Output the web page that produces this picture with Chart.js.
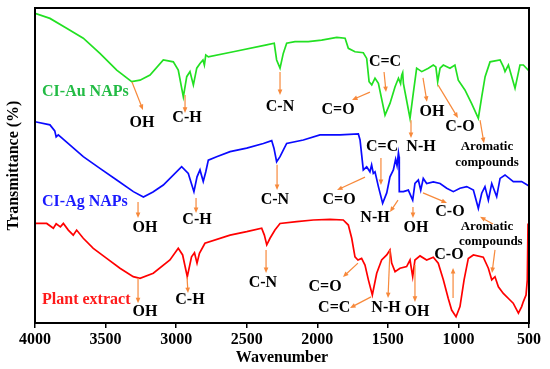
<!DOCTYPE html>
<html>
<head>
<meta charset="utf-8">
<script src="https://cdn.jsdelivr.net/npm/chart.js@4"></script>
<style>
  body { margin: 0; background: #fff; }
</style>
</head>
<body>
<canvas id="ftir" width="550" height="369"></canvas>
<script>
// wavenumber (cm-1) and transmittance (arbitrary, offset traces)
const auWave = [4000, 3894, 3776, 3658, 3540, 3421, 3315, 3256, 3185, 3091, 3020, 2985, 2949, 2925, 2902, 2878, 2854, 2831, 2810, 2800, 2790, 2772, 2595, 2359, 2305, 2288, 2264, 2241, 2217, 2158, 2064, 1969, 1862, 1803, 1780, 1733, 1674, 1650, 1633, 1614, 1591, 1567, 1520, 1485, 1449, 1425, 1410, 1402, 1395, 1390, 1343, 1320, 1296, 1260, 1213, 1178, 1160, 1147, 1130, 1107, 1060, 1025, 1001, 954, 907, 859, 835, 811, 776, 705, 682, 670, 646, 599, 564, 540, 500]
const auT = [98.3, 96.7, 93.6, 90.4, 85.6, 80.3, 76.6, 77.1, 78.7, 83.5, 82.9, 80.3, 71.8, 78.2, 79.8, 75.6, 80.9, 82.4, 83.5, 81.9, 85.1, 84.5, 86.1, 88.3, 88.8, 83.5, 80.9, 85.6, 88.8, 89.3, 89.3, 89.8, 90.7, 90.4, 87.2, 86.1, 85.8, 84.0, 76.6, 75.6, 77.7, 76.1, 66.0, 69.7, 75.0, 77.7, 76.0, 78.7, 79.5, 76.1, 65.0, 72.9, 80.9, 79.8, 80.9, 81.9, 81.3, 76.6, 80.9, 81.9, 80.9, 81.9, 77.1, 74.0, 69.7, 65.0, 71.8, 78.2, 82.9, 83.5, 81.4, 79.8, 81.9, 74.5, 81.9, 81.9, 80.0]

const agWave = [4000, 3894, 3860, 3850, 3835, 3658, 3540, 3421, 3303, 3232, 3164, 3091, 2961, 2914, 2874, 2852, 2831, 2808, 2790, 2772, 2713, 2618, 2500, 2382, 2323, 2307, 2288, 2264, 2241, 2217, 2099, 1981, 1839, 1709, 1697, 1674, 1650, 1627, 1615, 1603, 1591, 1567, 1537, 1508, 1485, 1461, 1445, 1435, 1425, 1421, 1419, 1390, 1355, 1324, 1308, 1284, 1267, 1249, 1225, 1178, 1130, 1083, 1036, 989, 941, 894, 859, 835, 812, 788, 764, 729, 705, 670, 611, 552, 500]
const agT = [63.9, 62.9, 61.0, 59.1, 59.7, 52.8, 49.1, 45.4, 41.7, 40.0, 41.6, 43.8, 49.6, 47.5, 41.7, 46.4, 48.6, 44.9, 48.0, 51.7, 52.8, 54.4, 55.5, 57.0, 57.9, 55.5, 51.2, 52.8, 54.9, 57.0, 58.1, 59.7, 59.7, 60.0, 58.1, 48.6, 49.6, 48.0, 50.2, 47.5, 48.0, 43.3, 38.0, 41.3, 46.4, 48.6, 52.0, 50.0, 54.0, 52.8, 41.7, 41.7, 42.2, 39.0, 44.3, 45.4, 42.2, 45.9, 44.3, 44.8, 44.3, 42.8, 41.7, 42.8, 43.3, 42.2, 36.4, 41.2, 43.3, 39.0, 44.3, 40.1, 45.9, 47.0, 44.9, 44.9, 43.5]

const plantWave = [4000, 3917, 3870, 3850, 3820, 3799, 3764, 3729, 3705, 3658, 3587, 3492, 3398, 3304, 3256, 3162, 3044, 2985, 2954, 2921, 2891, 2870, 2852, 2835, 2796, 2618, 2500, 2394, 2375, 2358, 2335, 2300, 2264, 2146, 2028, 1910, 1816, 1780, 1756, 1733, 1712, 1686, 1662, 1638, 1610, 1579, 1544, 1508, 1485, 1473, 1449, 1414, 1367, 1343, 1324, 1308, 1272, 1225, 1178, 1143, 1107, 1072, 1048, 1017, 989, 960, 930, 894, 824, 788, 764, 741, 717, 682, 635, 612, 575, 552, 540, 521, 512, 507, 503, 500]
const plantT = [31.6, 31.6, 30.1, 31.5, 30.5, 31.6, 29.5, 27.9, 29.5, 26.9, 23.7, 20.5, 17.4, 14.7, 14.2, 15.8, 20.0, 23.7, 21.6, 14.7, 21.0, 22.3, 19.0, 22.1, 25.3, 27.9, 29.0, 30.1, 27.9, 24.8, 26.9, 29.5, 31.6, 32.2, 32.7, 32.9, 32.7, 31.1, 26.9, 21.0, 20.0, 20.5, 18.4, 13.7, 8.9, 15.8, 20.0, 21.6, 23.2, 19.0, 16.3, 17.4, 17.9, 20.0, 14.7, 20.0, 21.3, 20.0, 20.9, 19.0, 13.7, 7.8, 4.1, 2.0, 5.2, 13.7, 20.5, 21.6, 20.9, 17.4, 13.7, 14.7, 11.5, 9.4, 7.3, 6.3, 3.1, 5.2, 6.8, 8.9, 13.7, 31.6, 23.2, 31.6]

const xTicks = [4000, 3500, 3000, 2500, 2000, 1500, 1000, 500]

// peak labels: [text, wavenumber, transmittance]
const peakLabels = [
  ['OH', 3242, 63.5], ['C-H', 2923, 65.1], ['C-N', 2264, 68.6], ['C=O', 1853, 67.6], ['C=C', 1520, 82.9],
  ['N-H', 1265, 55.9], ['OH', 1187, 67.0], ['C-O', 989, 62.2],
  ['OH', 3221, 30.2], ['C-H', 2852, 32.7], ['C-N', 2300, 39.0], ['C=O', 1846, 39.0], ['C=C', 1541, 55.9],
  ['N-H', 1591, 33.3], ['OH', 1301, 30.2], ['C-O', 1060, 35.2],
  ['OH', 3221, 3.5], ['C-H', 2902, 7.3], ['C-N', 2385, 12.7], ['C=O', 1945, 11.4], ['C=C', 1880, 4.8],
  ['N-H', 1513, 4.8], ['OH', 1294, 3.5], ['C-O', 1067, 21.6]
]
const smallLabels = [
  ['Aromatic', 798, 55.9], ['compounds', 798, 50.8],
  ['Aromatic', 798, 30.5], ['compounds', 770, 25.7]
]
const seriesLabels = [
  ['CI-Au NAPs', 3950, 73.3, '#22bb44'], ['CI-Ag NAPs', 3950, 38.4, '#1a1aff'], ['Plant extract', 3950, 7.3, '#ff1a1a']
]
// arrows: from [w, t] to [w, t]
const arrows = [
  [3313, 76.5, 3235, 67.6], [2937, 72.4, 2937, 66.7], [2264, 79.7, 2264, 72.4], [1627, 73.3, 1754, 70.8],
  [1527, 79.7, 1513, 73.3], [1336, 64.4, 1336, 58.7], [1251, 77.8, 1223, 70.2], [1145, 75.6, 1003, 65.1],
  [847, 64.4, 819, 57.1],
  [3270, 38.4, 3270, 33.3], [2859, 39.7, 2859, 34.9], [2285, 50.2, 2285, 42.2], [1662, 46.3, 1860, 42.2],
  [1549, 52.4, 1549, 43.8], [1428, 39.0, 1485, 35.2], [1322, 36.8, 1322, 33.3], [1251, 41.3, 1081, 38.1],
  [755, 31.4, 847, 33.7],
  [3270, 14.3, 3270, 6.3], [2923, 14.6, 2916, 9.5], [2363, 23.2, 2363, 15.9], [1712, 19.0, 1818, 14.6],
  [1619, 8.3, 1768, 4.8], [1485, 23.2, 1499, 7.9], [1308, 18.4, 1308, 6.7], [1038, 7.9, 1038, 17.5],
  [741, 23.2, 762, 15.9]
]

const serif = '"Liberation Serif", "Times New Roman", serif'
const toPoints = (xs, ys) => xs.map((w, i) => ({x: w, y: ys[i]}))

const drawArrow = (ctx, x1, y1, x2, y2) => {
  const ang = Math.atan2(y2 - y1, x2 - x1)
  const head = 6
  ctx.beginPath()
  ctx.moveTo(x1, y1)
  ctx.lineTo(x2 - Math.cos(ang) * head * 0.8, y2 - Math.sin(ang) * head * 0.8)
  ctx.stroke()
  ctx.beginPath()
  ctx.moveTo(x2, y2)
  ctx.lineTo(x2 - head * Math.cos(ang - 0.4), y2 - head * Math.sin(ang - 0.4))
  ctx.lineTo(x2 - head * Math.cos(ang + 0.4), y2 - head * Math.sin(ang + 0.4))
  ctx.closePath()
  ctx.fill()
}

const notes = {
  id: 'notes',
  afterDatasetsDraw(chart) {
    const {ctx, chartArea: a, scales: {x, y}} = chart
    ctx.save()
    ctx.strokeStyle = '#000'
    ctx.lineWidth = 2
    ctx.strokeRect(a.left, a.top, a.right - a.left, a.bottom - a.top)

    ctx.strokeStyle = '#f7893b'
    ctx.fillStyle = '#f7893b'
    ctx.lineWidth = 1.2
    arrows.forEach(r => drawArrow(ctx, x.getPixelForValue(r[0]), y.getPixelForValue(r[1]),
      x.getPixelForValue(r[2]), y.getPixelForValue(r[3])))

    ctx.textAlign = 'center'
    ctx.textBaseline = 'middle'
    ctx.fillStyle = '#000'
    ctx.font = 'bold 16px ' + serif
    peakLabels.forEach(l => ctx.fillText(l[0], x.getPixelForValue(l[1]), y.getPixelForValue(l[2])))
    ctx.font = 'bold 13px ' + serif
    smallLabels.forEach(l => ctx.fillText(l[0], x.getPixelForValue(l[1]), y.getPixelForValue(l[2])))

    ctx.textAlign = 'left'
    ctx.font = 'bold 16px ' + serif
    seriesLabels.forEach(l => {
      ctx.fillStyle = l[3]
      ctx.fillText(l[0], x.getPixelForValue(l[1]), y.getPixelForValue(l[2]))
    })
    ctx.restore()
  }
}

new Chart('ftir', {
  type: 'line',
  data: {
    datasets: [
      {data: toPoints(auWave, auT), borderColor: '#22e022'},
      {data: toPoints(agWave, agT), borderColor: '#0a0aff'},
      {data: toPoints(plantWave, plantT), borderColor: '#ff0000'}
    ]
  },
  options: {
    responsive: false,
    animation: false,
    layout: {padding: {top: 8, right: 21, left: 0, bottom: 0}},
    elements: {
      point: {radius: 0},
      line: {borderWidth: 1.7, tension: 0}
    },
    plugins: {legend: {display: false}, tooltip: {enabled: false}},
    scales: {
      x: {
        type: 'linear',
        reverse: true,
        min: 500,
        max: 4000,
        afterBuildTicks: s => { s.ticks = xTicks.map(v => ({value: v})) },
        afterFit: s => { s.height = 46 },
        ticks: {color: '#000', padding: 2, callback: v => String(v),
          font: {family: serif, size: 16, weight: 'bold'}},
        grid: {drawOnChartArea: false, drawTicks: true, tickLength: 5, color: '#000', lineWidth: 1.5},
        border: {color: '#000', width: 2},
        title: {display: true, text: 'Wavenumber', color: '#000', padding: {top: 0, bottom: 2},
          font: {family: serif, size: 16, weight: 'bold'}}
      },
      y: {
        min: 0,
        max: 100,
        afterFit: s => { s.width = 35 },
        ticks: {display: false},
        grid: {display: false},
        border: {color: '#000', width: 2},
        title: {display: true, text: 'Transmittance (%)', color: '#000', padding: {top: 4, bottom: 0},
          font: {family: serif, size: 16, weight: 'bold'}}
      }
    }
  },
  plugins: [notes]
})
</script>
</body>
</html>
